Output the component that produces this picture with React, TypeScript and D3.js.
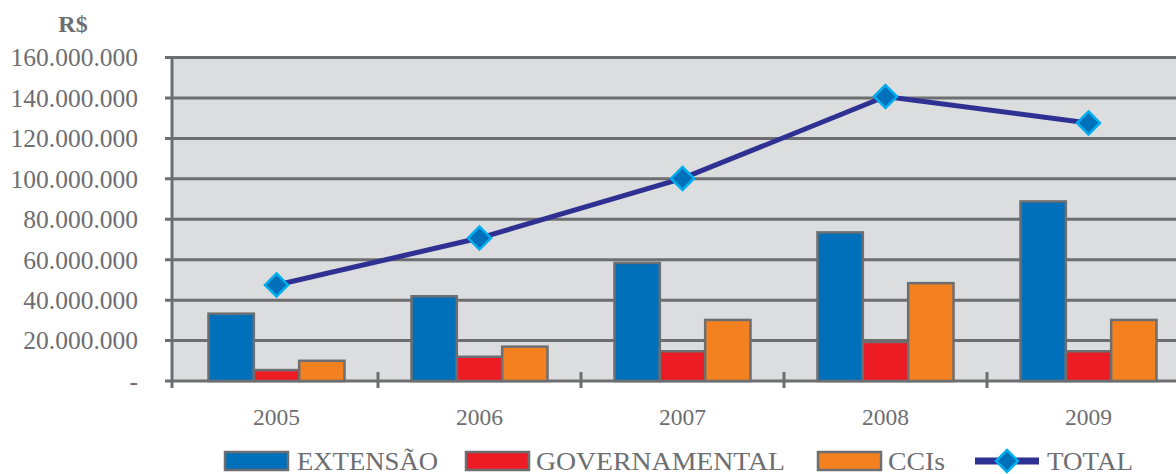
import React from "react";
import * as d3 from "d3";

const years = ["2005", "2006", "2007", "2008", "2009"];
const extensao = [33300000, 41900000, 58400000, 73500000, 88800000];
const governamental = [5400000, 12000000, 14700000, 19300000, 14700000];
const ccis = [10000000, 17000000, 30200000, 48400000, 30200000];
const total = [47500000, 70700000, 100200000, 140700000, 127600000];
const yTicks = [0, 20000000, 40000000, 60000000, 80000000, 100000000, 120000000, 140000000, 160000000];
const seriesNames = ["EXTENSÃO", "GOVERNAMENTAL", "CCIs"];
const lineName = "TOTAL";

const W = 1176;
const H = 474;
const GRAY = "#6D6E71";
const colors = ["#0070BA", "#ED1C24", "#F48120"];
const LINE = "#2E3192";
const FONT = "'Liberation Serif', 'Times New Roman', serif";

export default function App() {
  const axisX = 172;
  const y = d3.scaleLinear().domain([0, 160000000]).range([381, 57.5]);
  const x0 = d3.scaleBand().domain(years).range([175, 1190]).padding(0);
  const step = x0.step();
  const groupW = 136;
  const x1 = d3.scaleBand().domain(seriesNames).range([0, groupW]);
  const series = [extensao, governamental, ccis];
  const fmt = (v: number) => (v === 0 ? "-" : d3.format(",")(v).replace(/,/g, "."));
  const lineGen = d3
    .line<number>()
    .x((_, i) => (x0(years[i]) as number) + step / 2)
    .y((d) => y(d));

  const diamond = (cx: number, cy: number, r: number, key?: string) => (
    <path
      key={key}
      d={`M${cx},${cy - r}L${cx + r},${cy}L${cx},${cy + r}L${cx - r},${cy}Z`}
      fill="#0070BA"
      stroke="#00AEEF"
      strokeWidth={2.5}
    />
  );

  const legendItems = [
    { sx: 225, tx: 297, tl: 141, label: seriesNames[0], color: colors[0] },
    { sx: 466, tx: 536, tl: 249, label: seriesNames[1], color: colors[1] },
    { sx: 818, tx: 888, tl: 57, label: seriesNames[2], color: colors[2] },
  ];

  return (
    <svg width={W} height={H} style={{ position: "absolute", left: 0, top: 0 }} fontFamily={FONT}>
      <rect x={0} y={0} width={W} height={H} fill="#fff" />
      <rect x={axisX} y={y(160000000)} width={W - axisX} height={y(0) - y(160000000)} fill="#DCDDDF" />
      {yTicks.map((t) => (
        <g key={t}>
          <line x1={165} x2={W} y1={y(t)} y2={y(t)} stroke={GRAY} strokeWidth={3} />
          <text
            x={138}
            y={y(t)}
            dy="0.35em"
            textAnchor="end"
            fontSize={25.5}
            fill={GRAY}
          >
            {fmt(t)}
          </text>
        </g>
      ))}
      <text x={73} y={32} textAnchor="middle" fontSize={24} fontWeight="bold" fill={GRAY}>
        R$
      </text>
      {years.map((yr, i) => (
        <g key={yr}>
          {series.map((s, j) => {
            const bx = (x0(yr) as number) + (step - groupW) / 2 + (x1(seriesNames[j]) as number);
            return (
              <rect
                key={j}
                x={bx}
                y={y(s[i])}
                width={x1.bandwidth()}
                height={y(0) - y(s[i])}
                fill={colors[j]}
                stroke={GRAY}
                strokeWidth={2.5}
              />
            );
          })}
          <text
            x={(x0(yr) as number) + step / 2}
            y={425}
            textAnchor="middle"
            fontSize={23.5}
            fill={GRAY}
          >
            {yr}
          </text>
        </g>
      ))}
      <line x1={axisX} x2={axisX} y1={y(160000000) - 1.5} y2={388} stroke={GRAY} strokeWidth={3} />
      {years.map((yr) => (
        <line
          key={"t" + yr}
          x1={(x0(yr) as number) + step}
          x2={(x0(yr) as number) + step}
          y1={372}
          y2={388}
          stroke={GRAY}
          strokeWidth={3}
        />
      ))}
      <path d={lineGen(total) || ""} fill="none" stroke={LINE} strokeWidth={5} />
      {total.map((v, i) => diamond((x0(years[i]) as number) + step / 2, y(v), 11.5, "d" + i))}
      {legendItems.map((it) => (
        <g key={it.label}>
          <rect x={it.sx} y={452} width={63} height={18} fill={it.color} stroke={GRAY} strokeWidth={2.5} />
          <text x={it.tx} y={470} fontSize={24.5} fill={GRAY} textLength={it.tl} lengthAdjust="spacingAndGlyphs">
            {it.label}
          </text>
        </g>
      ))}
      <line x1={975} x2={1039} y1={461} y2={461} stroke={LINE} strokeWidth={7} />
      {diamond(1007, 461, 11, "ld")}
      <text x={1047} y={470} fontSize={24.5} fill={GRAY} textLength={86} lengthAdjust="spacingAndGlyphs">
        {lineName}
      </text>
    </svg>
  );
}
